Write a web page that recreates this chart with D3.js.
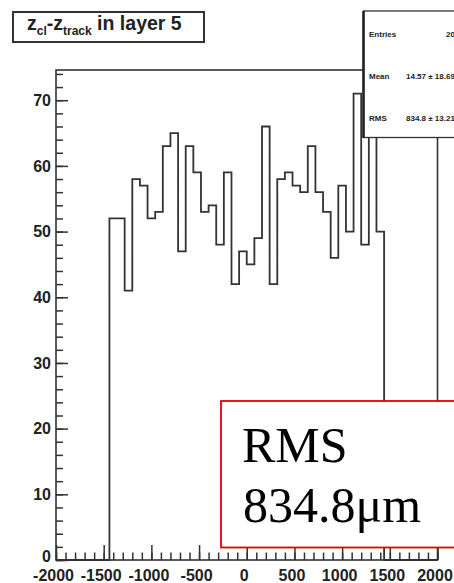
<!DOCTYPE html>
<html>
<head>
<meta charset="utf-8">
<script src="https://cdn.jsdelivr.net/npm/d3@7"></script>
<style>
  html, body { margin: 0; padding: 0; background: #fff; }
  svg { display: block; }
  .lab { font-family: "Liberation Sans", Arial, sans-serif; font-weight: bold; fill: #222; }
</style>
</head>
<body>
<svg id="chart" width="454" height="583"></svg>
<script>
// Histogram of z_cl - z_track residuals (µm), 50 bins from -2000 to 2000
const xRange = [-2000, 2000];
const counts = [0, 0, 0, 0, 0, 0, 0,
  52, 52, 41, 58, 57, 52, 53, 63, 65, 47, 63, 59, 53, 54, 48, 59, 42,
  47, 45, 49, 66, 42, 58, 59, 57, 56, 63, 56, 53, 46, 57, 50, 71, 48,
  70, 50,
  0, 0, 0, 0, 0, 0, 0];
const yMax = 74.6;
const xTicks = [-2000, -1500, -1000, -500, 0, 500, 1000, 1500, 2000];
const yTicks = [0, 10, 20, 30, 40, 50, 60, 70];
const statLabels = ["Entries", "Mean", "RMS"];
const statValues = ["2000", "14.57 \u00b1 18.69", "834.8 \u00b1 13.21"];
const rmsNote = ["RMS", "834.8\u03bcm"];

const svg = d3.select("#chart");
const frame = { left: 56, right: 437.5, top: 70, bottom: 560 };

const x = d3.scaleLinear().domain(xRange).range([frame.left, frame.right]);
const y = d3.scaleLinear().domain([0, yMax]).range([frame.bottom, frame.top]);

const nBins = counts.length;
const binW = (xRange[1] - xRange[0]) / nBins;
const edges = d3.range(nBins + 1).map(i => xRange[0] + i * binW);

// minor ticks
const yMinor = d3.range(0, yMax, 2);
const xMinor = d3.range(-2000, 2001, 100);

// plain hyphen-minus labels
const plain = d => String(d);

const ax = svg.append("g");
const yMinorAxis = d3.axisLeft(y).tickValues(yMinor).tickSizeInner(-7).tickSizeOuter(0).tickFormat("");
const yMajorAxis = d3.axisLeft(y).tickValues(yTicks).tickSizeInner(-12).tickSizeOuter(0).tickPadding(5).tickFormat(plain);
const xMinorAxis = d3.axisBottom(x).tickValues(xMinor).tickSizeInner(-7.5).tickSizeOuter(0).tickFormat("");
const xMajorAxis = d3.axisBottom(x).tickValues(xTicks).tickSizeInner(-15).tickSizeOuter(0).tickPadding(10).tickFormat(plain);

function styleAxis(g) {
  g.select(".domain").remove();
  g.selectAll("line").attr("stroke", "#333").attr("stroke-width", 1.5);
  g.selectAll("text").attr("class", "lab").attr("font-size", 16).attr("fill", "#222");
}
ax.append("g").attr("transform", `translate(${frame.left},0)`).call(yMinorAxis).call(styleAxis);
const yg = ax.append("g").attr("transform", `translate(${frame.left},0)`).call(yMajorAxis).call(styleAxis);
ax.append("g").attr("transform", `translate(0,${frame.bottom})`).call(xMinorAxis).call(styleAxis);
const xg = ax.append("g").attr("transform", `translate(0,${frame.bottom})`).call(xMajorAxis).call(styleAxis);
ax.selectAll("text").attr("font-family", "Liberation Sans, Arial, sans-serif").attr("font-weight", "bold");
xg.selectAll("text").attr("dx", -3);
yg.selectAll(".tick").filter(d => d === 0).select("text").attr("dy", "0.1em");

// histogram outline (step line)
const pts = [[x(edges[0]), y(0)]];
counts.forEach((c, i) => {
  pts.push([x(edges[i]), y(c)]);
  pts.push([x(edges[i + 1]), y(c)]);
});
pts.push([x(edges[nBins]), y(0)]);
svg.append("path")
  .attr("d", d3.line()(pts))
  .attr("fill", "none")
  .attr("stroke", "#333")
  .attr("stroke-width", 1.8)
  .attr("stroke-linejoin", "miter");

// plot frame
svg.append("rect")
  .attr("x", frame.left).attr("y", frame.top)
  .attr("width", frame.right - frame.left).attr("height", frame.bottom - frame.top)
  .attr("fill", "none").attr("stroke", "#333").attr("stroke-width", 1.6);

// title box
const tg = svg.append("g");
tg.append("rect").attr("x", 13).attr("y", 12).attr("width", 191).attr("height", 30)
  .attr("fill", "#fff").attr("stroke", "#333").attr("stroke-width", 2);
const title = tg.append("text").attr("class", "lab").attr("x", 27).attr("y", 30).attr("font-size", 19.5);
title.append("tspan").text("z");
title.append("tspan").attr("font-size", 12).attr("dy", 5).text("cl");
title.append("tspan").attr("dy", -5).text("-z");
title.append("tspan").attr("font-size", 12).attr("dy", 5).text("track");
title.append("tspan").attr("dy", -5).text(" in layer 5");

// statistics box
const sg = svg.append("g");
sg.append("rect").attr("x", 363.5).attr("y", 11).attr("width", 120).attr("height", 126.5)
  .attr("fill", "#fff").attr("stroke", "#333").attr("stroke-width", 1.3);
sg.append("line").attr("x1", 363.5).attr("x2", 363.5).attr("y1", 11).attr("y2", 138)
  .attr("stroke", "#222").attr("stroke-width", 2.6);
const statY = [33.5, 75.5, 117.5];
statLabels.forEach((s, i) => {
  sg.append("text").attr("class", "lab").attr("x", 369).attr("y", statY[i] + 3)
    .attr("font-size", 8).attr("fill", "#333").text(s);
  sg.append("text").attr("class", "lab").attr("x", i === 0 ? 446 : 406).attr("y", statY[i] + 3)
    .attr("font-size", 8).attr("fill", "#333").text(statValues[i]);
});

// RMS annotation box
const rg = svg.append("g");
rg.append("rect").attr("x", 221).attr("y", 401).attr("width", 260).attr("height", 146.5)
  .attr("fill", "#fff").attr("stroke", "#e00000").attr("stroke-width", 1.8);
rg.append("text").attr("x", 242).attr("y", 462)
  .attr("font-family", "Liberation Serif, Times New Roman, serif").attr("font-size", 50)
  .attr("fill", "#000").text(rmsNote[0]);
rg.append("text").attr("x", 243).attr("y", 522)
  .attr("font-family", "Liberation Serif, Times New Roman, serif").attr("font-size", 50)
  .attr("fill", "#000").text(rmsNote[1]);
</script>
</body>
</html>
